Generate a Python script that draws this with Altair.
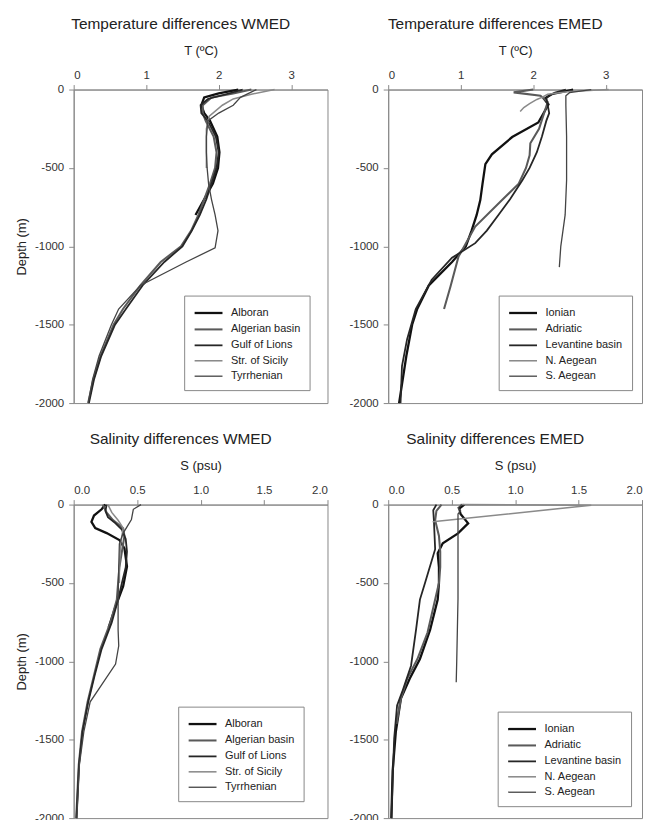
import altair as alt
import pandas as pd

# ---------------- WMED temperature ----------------
wt_alb_d = [0, -25, -50, -100, -150, -200, -300, -400, -500, -600, -700, -800]
wt_alb_v = [2.27, 2.0, 1.8, 1.76, 1.80, 1.88, 1.98, 2.01, 1.99, 1.92, 1.80, 1.68]
wt_alg_d = [0, -25, -50, -100, -150, -200, -300, -400, -500, -600, -700, -800, -900, -1000, -1100, -1250, -1400, -1500, -1700, -1850, -2000]
wt_alg_v = [2.45, 2.2, 1.9, 1.78, 1.78, 1.82, 1.93, 1.97, 1.95, 1.88, 1.80, 1.72, 1.62, 1.48, 1.20, 0.92, 0.68, 0.55, 0.37, 0.27, 0.2]
wt_gol_d = [0, -30, -60, -100, -150, -200, -300, -400, -500, -600, -700, -800, -900, -1000, -1100, -1250, -1400, -1500, -1700, -1850, -2000]
wt_gol_v = [2.33, 2.1, 1.85, 1.75, 1.76, 1.85, 1.96, 2.0, 1.97, 1.9, 1.83, 1.74, 1.63, 1.50, 1.25, 0.95, 0.72, 0.57, 0.38, 0.28, 0.21]
wt_sic_d = [0, -30, -60, -100, -170, -250, -350, -500]
wt_sic_v = [2.77, 2.45, 2.2, 2.05, 1.87, 1.83, 1.83, 1.83]
wt_tyr_d = [0, -50, -100, -150, -200, -300, -400, -500, -600, -700, -800, -900, -1010, -1100, -1250, -1400, -1500, -1700, -1850, -2000]
wt_tyr_v = [2.52, 2.3, 2.2, 2.0, 1.85, 1.83, 1.83, 1.84, 1.86, 1.9, 1.95, 1.99, 1.95, 1.55, 0.92, 0.62, 0.52, 0.35, 0.26, 0.2]

# ---------------- EMED temperature ----------------
et_ion_d = [0, -30, -60, -95, -210, -303, -413, -476, -603, -705, -800, -900, -1000, -1100, -1250, -1400, -1500, -1700, -1850, -2000]
et_ion_v = [2.55, 2.25, 2.15, 2.21, 2.07, 1.71, 1.43, 1.34, 1.30, 1.27, 1.22, 1.15, 1.07, 0.88, 0.56, 0.40, 0.33, 0.25, 0.2, 0.15]
et_adr_d = [0, -18, -40, -80, -150, -250, -343, -420, -500, -600, -705, -874, -1065, -1255, -1400]
et_adr_v = [2.0, 1.73, 2.1, 2.2, 2.15, 2.08, 1.96, 1.95, 1.9, 1.8, 1.57, 1.2, 0.97, 0.86, 0.77]
et_lev_d = [0, -20, -50, -100, -150, -200, -300, -400, -500, -578, -700, -800, -900, -980, -1073, -1213, -1400, -1594, -1764, -2000]
et_lev_v = [2.45, 2.3, 2.18, 2.2, 2.22, 2.18, 2.12, 2.05, 1.95, 1.85, 1.68, 1.52, 1.36, 1.2, 0.88, 0.6, 0.38, 0.26, 0.19, 0.17]
et_nae_d = [0, -12, -30, -50, -63, -90, -115, -140]
et_nae_v = [3.04, 2.5, 2.2, 2.12, 2.05, 1.95, 1.87, 1.82]
et_sae_d = [0, -20, -40, -100, -300, -578, -800, -1000, -1133]
et_sae_v = [2.8, 2.5, 2.45, 2.45, 2.46, 2.46, 2.44, 2.38, 2.36]

# ---------------- WMED salinity ----------------
ws_alb_d = [0, -30, -70, -110, -150, -182, -226, -279, -395, -521, -650, -785]
ws_alb_v = [0.25, 0.22, 0.16, 0.14, 0.17, 0.26, 0.36, 0.40, 0.42, 0.39, 0.33, 0.275]
ws_alg_d = [0, -52, -99, -152, -200, -300, -400, -500, -606, -752, -922, -1091, -1258, -1448, -1659, -2000]
ws_alg_v = [0.23, 0.26, 0.31, 0.39, 0.40, 0.38, 0.36, 0.35, 0.34, 0.29, 0.21, 0.16, 0.11, 0.066, 0.04, 0.02]
ws_gol_d = [0, -40, -80, -120, -160, -220, -300, -400, -500, -606, -752, -922, -1091, -1258, -1448, -1659, -2000]
ws_gol_v = [0.26, 0.25, 0.27, 0.33, 0.38, 0.41, 0.42, 0.41, 0.38, 0.35, 0.30, 0.22, 0.165, 0.115, 0.07, 0.042, 0.022]
ws_sic_d = [0, -50, -100, -150, -250, -400, -500]
ws_sic_v = [0.27, 0.3, 0.35, 0.39, 0.37, 0.36, 0.36]
ws_tyr_d = [0, -30, -95, -142, -182, -250, -400, -606, -800, -901, -1017, -1150, -1258, -1448, -1659, -2000]
ws_tyr_v = [0.53, 0.47, 0.455, 0.42, 0.39, 0.36, 0.355, 0.35, 0.35, 0.355, 0.33, 0.22, 0.13, 0.08, 0.045, 0.025]

# ---------------- EMED salinity ----------------
es_ion_d = [0, -25, -60, -120, -184, -247, -310, -400, -500, -606, -800, -985, -1110, -1238, -1450, -1700, -2000]
es_ion_v = [0.6, 0.56, 0.57, 0.63, 0.55, 0.43, 0.39, 0.40, 0.40, 0.39, 0.33, 0.25, 0.17, 0.1, 0.06, 0.035, 0.025]
es_adr_d = [0, -40, -100, -200, -300, -400, -500, -606, -816, -985, -1110, -1238, -1400]
es_adr_v = [0.42, 0.38, 0.37, 0.40, 0.41, 0.41, 0.40, 0.37, 0.31, 0.23, 0.15, 0.1, 0.065]
es_lev_d = [0, -36, -100, -285, -500, -606, -795, -1028, -1195, -1281, -1492, -1787, -2000]
es_lev_v = [0.38, 0.355, 0.36, 0.37, 0.29, 0.25, 0.22, 0.18, 0.11, 0.07, 0.047, 0.034, 0.025]
es_nae_d = [0, -4, -110]
es_nae_v = [0.57, 1.6, 0.35]
es_sae_d = [0, -20, -40, -60, -200, -400, -600, -800, -1000, -1133]
es_sae_v = [0.58, 0.55, 0.57, 0.55, 0.55, 0.55, 0.55, 0.545, 0.54, 0.536]

wmed_regions = ["Alboran", "Algerian basin", "Gulf of Lions", "Str. of Sicily", "Tyrrhenian"]
emed_regions = ["Ionian", "Adriatic", "Levantine basin", "N. Aegean", "S. Aegean"]
line_colors = ["#111111", "#5a5a5a", "#262626", "#8a8a8a", "#444444"]
line_widths = [2.3, 1.3, 2.0, 1.3, 1.3]

FONT = "Liberation Sans"


def frame(regions, depth_lists, value_lists):
    rows = []
    for r, ds, vs in zip(regions, depth_lists, value_lists):
        for i, (d, v) in enumerate(zip(ds, vs)):
            rows.append({"region": r, "depth": d, "value": v, "i": i})
    return pd.DataFrame(rows)


def panel(df, regions, title, xtitle, xmax, xvalues, xformat, ytitle, lx, ly):
    yaxis = alt.Axis(values=[0, -500, -1000, -1500, -2000], labelExpr="datum.value + ''",
                     title=ytitle, grid=False)
    leg = alt.Legend(title=None, orient="none", legendX=lx, legendY=ly)
    return alt.Chart(df).mark_line().encode(
        x=alt.X("value:Q", scale=alt.Scale(domain=[0, xmax], nice=False, zero=False),
                axis=alt.Axis(orient="top", values=xvalues, format=xformat, title=xtitle, grid=False)),
        y=alt.Y("depth:Q", scale=alt.Scale(domain=[-2000, 0], nice=False), axis=yaxis),
        color=alt.Color("region:N", scale=alt.Scale(domain=regions, range=line_colors), legend=leg),
        strokeWidth=alt.StrokeWidth("region:N", scale=alt.Scale(domain=regions, range=line_widths), legend=leg),
        detail="region:N",
        order="i:Q",
    ).properties(
        width=255, height=315,
        title=alt.TitleParams(title, dx=-20, fontSize=15.5, font=FONT, fontWeight="normal",
                              color="#222222", offset=12),
    )


p1 = panel(frame(wmed_regions, [wt_alb_d, wt_alg_d, wt_gol_d, wt_sic_d, wt_tyr_d],
                 [wt_alb_v, wt_alg_v, wt_gol_v, wt_sic_v, wt_tyr_v]), wmed_regions,
           "Temperature differences WMED", "T (ºC)", 3.5, [0, 1, 2, 3], "d", "Depth (m)", 111, 207)
p2 = panel(frame(emed_regions, [et_ion_d, et_adr_d, et_lev_d, et_nae_d, et_sae_d],
                 [et_ion_v, et_adr_v, et_lev_v, et_nae_v, et_sae_v]), emed_regions,
           "Temperature differences EMED", "T (ºC)", 3.5, [0, 1, 2, 3], "d", None, 111, 207)
p3 = panel(frame(wmed_regions, [ws_alb_d, ws_alg_d, ws_gol_d, ws_sic_d, ws_tyr_d],
                 [ws_alb_v, ws_alg_v, ws_gol_v, ws_sic_v, ws_tyr_v]), wmed_regions,
           "Salinity differences WMED", "S (psu)", 2.0, [0, 0.5, 1.0, 1.5, 2.0], ".1f", "Depth (m)", 105, 203)
p4 = panel(frame(emed_regions, [es_ion_d, es_adr_d, es_lev_d, es_nae_d, es_sae_d],
                 [es_ion_v, es_adr_v, es_lev_v, es_nae_v, es_sae_v]), emed_regions,
           "Salinity differences EMED", "S (psu)", 2.0, [0, 0.5, 1.0, 1.5, 2.0], ".1f", None, 110, 208)

chart = alt.concat(p1, p2, p3, p4, columns=2, spacing={"row": 102, "column": 61}, bounds="flush").resolve_scale(
    color="independent", strokeWidth="independent", x="independent", y="independent"
).resolve_legend(color="independent", strokeWidth="independent").properties(
    padding={"left": 7, "top": 7, "right": 0, "bottom": 0}
).configure_view(
    stroke="#888888", strokeWidth=1
).configure_axis(
    domainColor="#888888", tickColor="#888888", tickSize=5, labelPadding=4,
    labelFont=FONT, labelFontSize=11.5, labelColor="#333333",
    titleFont=FONT, titleFontSize=13, titleFontWeight="normal", titleColor="#222222",
).configure_axisTop(titlePadding=12).configure_axisLeft(titlePadding=6, labelPadding=5).configure_legend(
    strokeColor="#888888", padding=9, labelFont=FONT, labelFontSize=11, labelColor="#222222",
    symbolType="M-1,0H3", symbolSize=196, symbolStrokeColor="#333333", rowPadding=2.5, labelOffset=21,
    fillColor="white",
)

chart.save("out.html", embed_options={"renderer": "svg", "actions": False})
